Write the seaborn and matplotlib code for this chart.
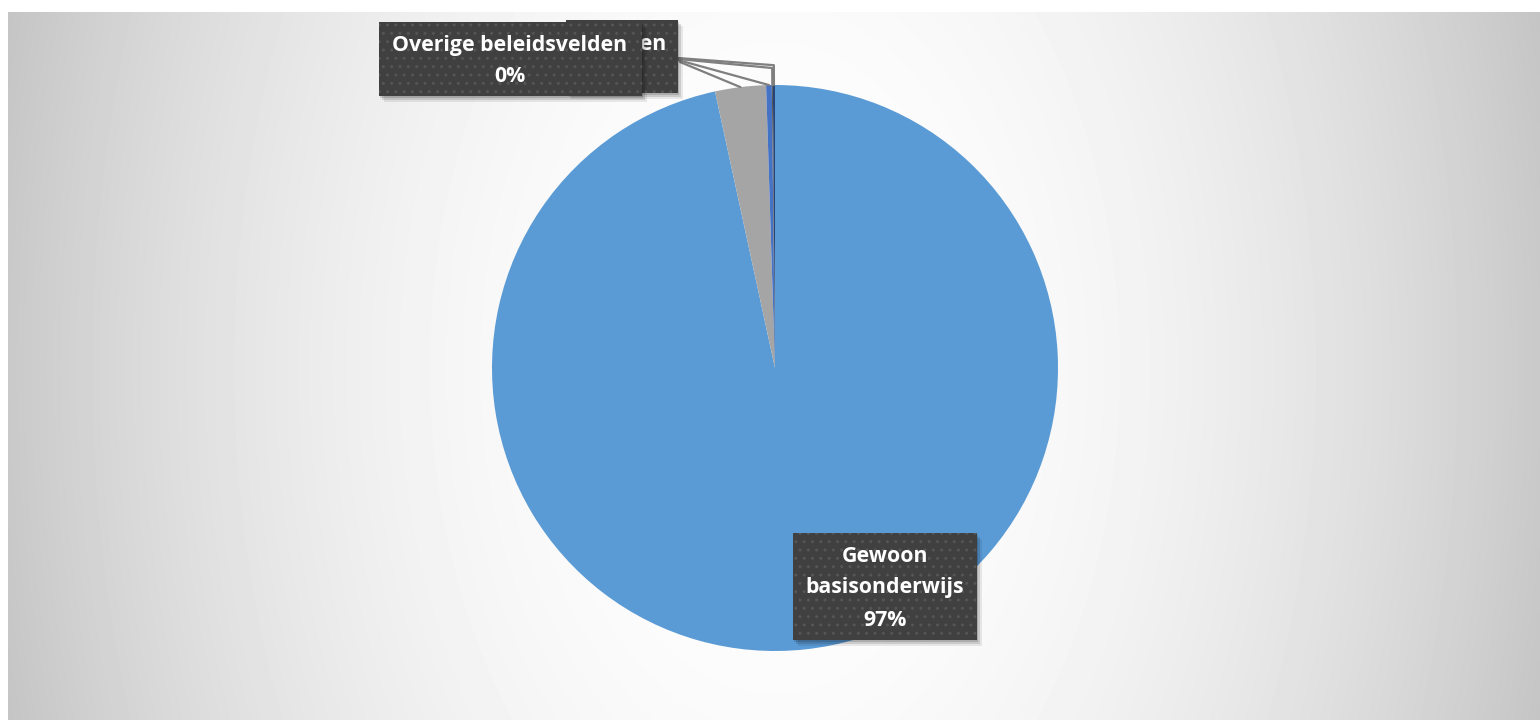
import numpy as np
import matplotlib
matplotlib.use("Agg")
import matplotlib.pyplot as plt
from matplotlib.patches import Rectangle
import seaborn as sns

# data
categorieen = ["Gewoon basisonderwijs", "Buitengewoon basisonderwijs", "Internaten", "CLB", "Overige beleidsvelden"]
aandeel = [96.6, 2.9, 0.32, 0.06, 0.12]
kleuren = ["#5B9BD5", "#A5A5A5", "#4472C4", "#555555", "#264478"]

sns.set_style("white")
plt.rcParams['font.family'] = ['Open Sans', 'DejaVu Sans']

W, H = 1540, 720
fig = plt.figure(figsize=(W / 100, H / 100), dpi=100)
fig.patch.set_facecolor("white")

# radial grey background of the chart area
bg = fig.add_axes([8 / W, 0, 1 - 8 / W, 708 / H])
xs = np.linspace(8, 1540, 400)
ys = np.linspace(12, 720, 200)
gx, gy = np.meshgrid(xs, ys)
r = np.sqrt(((gx - 775) / 765) ** 2 + ((gy - 368) / 1200) ** 2)
val = 1 - 0.21 * r ** 2.0
bg.imshow(val, cmap="gray", vmin=0, vmax=1, aspect="auto", interpolation="bilinear")
bg.axis("off")

# pie
cx, cy, rad = 775, 368, 283
ax = fig.add_axes([(cx - rad) / W, (H - cy - rad) / H, 2 * rad / W, 2 * rad / H])
wedges, _ = ax.pie(aandeel, colors=kleuren, startangle=90, counterclock=False,
                   wedgeprops=dict(linewidth=0))
ax.set_xlim(-1, 1)
ax.set_ylim(-1, 1)
ax.set_aspect("equal")
ax.axis("off")

# overlay in pixel coordinates for labels and leader lines
ov = fig.add_axes([0, 0, 1, 1])
ov.set_xlim(0, W)
ov.set_ylim(H, 0)
ov.axis("off")

totaal = sum(aandeel)


def punt(wedge, straal):
    hoek = np.deg2rad((wedge.theta1 + wedge.theta2) / 2)
    return cx + rad * straal * np.cos(hoek), cy - rad * straal * np.sin(hoek)


# leader lines for the small slices
starts = [None, (680, 62), (678, 60), (678, 59), (678, 58)]
elbow = [None, None, None, 1.06, 1.07]
for i in range(1, len(wedges)):
    x1, y1 = punt(wedges[i], 1.0)
    xs_l = [starts[i][0]]
    ys_l = [starts[i][1]]
    if elbow[i]:
        xe, ye = punt(wedges[i], elbow[i])
        xs_l.append(xe)
        ys_l.append(ye)
    xs_l.append(x1)
    ys_l.append(y1)
    ov.plot(xs_l, ys_l, color="#7F7F7F", lw=1.6, zorder=2)


def label_box(x0, y0, x1, y1, regels, xc, ytops, z):
    for k, a in [(6, 0.08), (4, 0.12), (2, 0.15)]:
        ov.add_patch(Rectangle((x0 + k - 1, y0 + k), x1 - x0, y1 - y0, fc="black", alpha=a,
                               ec="none", zorder=z))
    ov.add_patch(Rectangle((x0, y0), x1 - x0, y1 - y0, fc="#404040", ec="#555555",
                           lw=0, hatch="..", zorder=z + 0.1))
    for tekst, yy in zip(regels, ytops):
        ov.text(xc, yy, tekst, color="white", fontsize=15.3, fontweight="bold",
                ha="center", va="center", zorder=z + 0.2)


def pct(v):
    return f"{v / totaal * 100:.0f}%"


# hidden label behind the front one
label_box(566, 20, 678, 93, [categorieen[2], pct(aandeel[2])], 609, [45, 77], 3)
# front label
label_box(379, 22, 642, 96, [categorieen[4], pct(aandeel[4])], 510, [45, 77], 4)
# big slice label
label_box(793, 533, 977, 640, ["Gewoon", "basisonderwijs", pct(aandeel[0])], 885,
          [556, 588, 620], 5)

fig.savefig("out.png", dpi=100)
